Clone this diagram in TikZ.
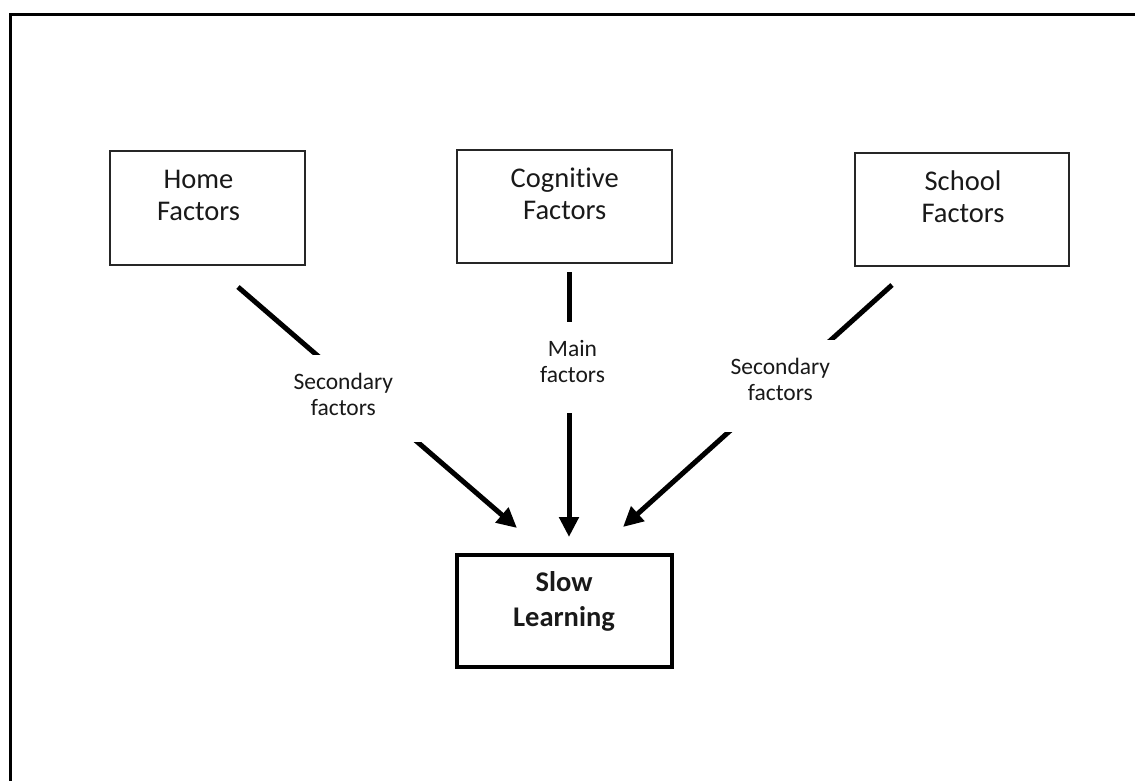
\documentclass[tikz,border=0pt]{standalone}
\usepackage{fontspec}
\setmainfont{Carlito}[Ligatures=NoCommon]
\usetikzlibrary{arrows.meta}
\begin{document}
\begin{tikzpicture}[x=1pt, y=-1pt,
  frame/.style={line width=3.5pt, black},
  factorbox/.style={draw=black!85, line width=1.7pt, rectangle, inner sep=0pt},
  resultbox/.style={draw=black, line width=3.2pt, rectangle, inner sep=0pt},
  boxtext/.style={anchor=south, inner sep=0pt, text depth=0pt, align=center,
    font=\fontsize{28.5}{32}\selectfont, text=black!90},
  resulttext/.style={anchor=south, inner sep=0pt, text depth=0pt, align=center,
    font=\fontsize{28.5}{35}\selectfont\bfseries, text=black!90},
  cover/.style={fill=white, draw=none, inner sep=0pt},
  labeltext/.style={anchor=south, inner sep=0pt, text depth=0pt, align=center,
    font=\fontsize{23.5}{26}\selectfont, text=black!90},
  flow/.style={line width=5pt, black, -{Triangle[length=20pt, width=19pt]}}
]
\useasboundingbox (0,0) rectangle (1135,781);
\clip (0,0) rectangle (1135,781);

% outer frame (continues past the right and lower edges)
\draw[frame] (10.5,800) -- (10.5,14.5) -- (1160,14.5);

% factor boxes
\node[factorbox, minimum width=195pt, minimum height=114pt] (home) at (207.5,208) {};
\node[factorbox, minimum width=215pt, minimum height=113pt] (cog) at (564.5,206.5) {};
\node[factorbox, minimum width=214pt, minimum height=113pt] (school) at (962,209.5) {};
\node[resultbox, minimum width=215pt, minimum height=112pt] (slow) at (564.5,611) {};

\node[boxtext] (homet) at (198.5,221) {Home\\Factors};
\node[boxtext] (cogt) at (564.7,219.5) {Cognitive\\Factors};
\node[boxtext] (schoolt) at (963,222.5) {School\\Factors};
\node[resulttext] (slowt) at (564,626.7) {Slow\\Learning};

% arrow end points
\coordinate (hs) at (238,287);
\coordinate (he) at (517,528);
\coordinate (cs) at (569,272);
\coordinate (ce) at (569,537);
\coordinate (ss) at (892,285);
\coordinate (se) at (623,527);

\draw[flow] (hs) -- (he);
\draw[flow] (cs) -- (ce);
\draw[flow] (ss) -- (se);

% label boxes that interrupt the arrows
\node[cover, minimum width=145pt, minimum height=87pt] (hcover) at (357.5,398.5) {};
\node[cover, minimum width=72pt, minimum height=91pt] (ccover) at (572.5,367.5) {};
\node[cover, minimum width=136pt, minimum height=92pt] (scover) at (780,386) {};

\node[labeltext] (hlab) at (343.3,415.7) {Secondary\\factors};
\node[labeltext] (clab) at (572.5,383) {Main\\factors};
\node[labeltext] (slab) at (780.3,400.7) {Secondary\\factors};
\end{tikzpicture}
\end{document}
